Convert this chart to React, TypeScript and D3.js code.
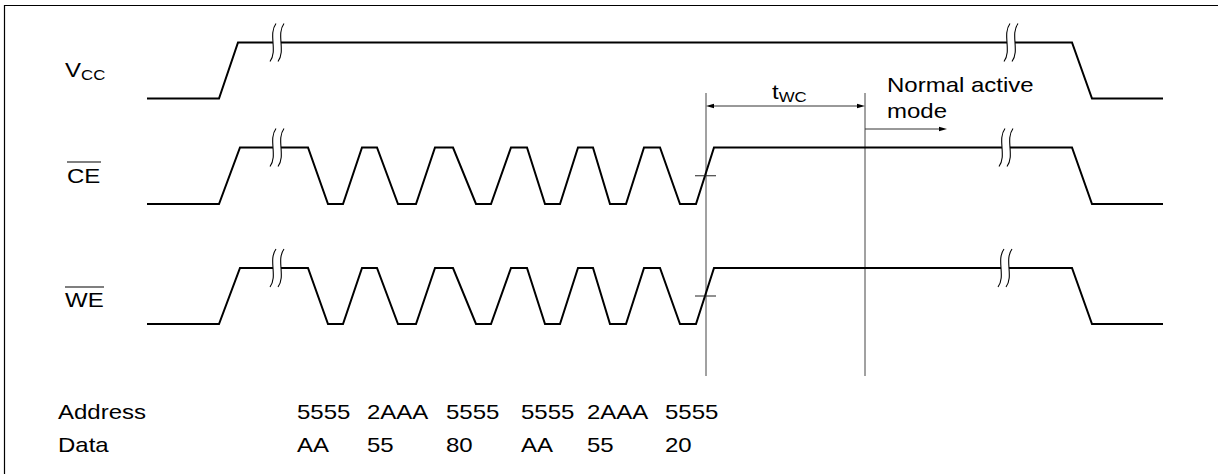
import React from "react";
import * as d3 from "d3";

// ---- Data (time positions of edges, levels 0 = low, 1 = high) ----
const vccTimes = [147, 219, 238, 1072, 1092, 1163];
const vccLevels = [0, 0, 1, 1, 0, 0];

const ceTimes = [147, 219, 240, 308, 328, 343, 362, 377, 398, 416, 435, 453, 476, 491, 511, 527, 545, 560, 578, 593, 610, 626, 644, 660, 680, 696, 714, 1072, 1092, 1163];
const ceLevels = [0, 0, 1, 1, 0, 0, 1, 1, 0, 0, 1, 1, 0, 0, 1, 1, 0, 0, 1, 1, 0, 0, 1, 1, 0, 0, 1, 1, 0, 0];

const weTimes = ceTimes;
const weLevels = ceLevels;

const signalNames = ["VCC", "CE", "WE"];
const breakTimesVcc = [277, 1011];
const breakTimesCe = [277, 1006];
const breakTimesWe = [277, 1005];

const markerTimes = [706, 865]; // tWC start / end
const addressLabels = ["5555", "2AAA", "5555", "5555", "2AAA", "5555"];
const dataLabels = ["AA", "55", "80", "AA", "55", "20"];
const columnTimes = [297, 367, 446, 521, 587, 665];

// ---- Layout ----
const W = 1218;
const H = 474;
const FONT = "'Liberation Sans', Arial, Helvetica, sans-serif";
const SX = 1.2;

const x = d3.scaleLinear().domain([0, W]).range([0, W]);
const yVcc = d3.scaleLinear().domain([0, 1]).range([98.5, 42.5]);
const yCe = d3.scaleLinear().domain([0, 1]).range([204, 147.5]);
const yWe = d3.scaleLinear().domain([0, 1]).range([324, 268]);

function signalPath(times: number[], levels: number[], y: d3.ScaleLinear<number, number>) {
  const pts: [number, number][] = times.map((t, i) => [x(t), y(levels[i])]);
  return d3.line()(pts) || "";
}

function BreakMark({ cx, cy }: { cx: number; cy: number }) {
  const curve = (dx: number) =>
    `M${cx + dx + 3},${cy - 19} C${cx + dx - 5},${cy - 8} ${cx + dx + 5},${cy + 8} ${cx + dx - 3},${cy + 19}`;
  const fill =
    `M${cx - 4 + 3},${cy - 19} C${cx - 4 - 5},${cy - 8} ${cx - 4 + 5},${cy + 8} ${cx - 4 - 3},${cy + 19}` +
    ` L${cx + 4 - 3},${cy + 19} C${cx + 4 + 5},${cy + 8} ${cx + 4 - 5},${cy - 8} ${cx + 4 + 3},${cy - 19} Z`;
  return (
    <g>
      <path d={fill} fill="#fff" stroke="none" />
      <path d={curve(-4)} fill="none" stroke="#000" strokeWidth={1.1} />
      <path d={curve(4)} fill="none" stroke="#000" strokeWidth={1.1} />
    </g>
  );
}

function Txt({ x0, y0, children, size = 20 }: { x0: number; y0: number; children: React.ReactNode; size?: number }) {
  return (
    <text transform={`translate(${x0},${y0}) scale(${SX},1)`} fontSize={size} fontFamily={FONT} fill="#000">
      {children}
    </text>
  );
}

export default function App() {
  const sigs = [
    { t: vccTimes, l: vccLevels, y: yVcc, b: breakTimesVcc },
    { t: ceTimes, l: ceLevels, y: yCe, b: breakTimesCe },
    { t: weTimes, l: weLevels, y: yWe, b: breakTimesWe },
  ];
  const vTop = 93;
  const vBot = 376;
  const aw = 8;
  const ah = 2.2;
  const yT = 106;
  const yN = 129;
  const ceCross = yCe(0.5);
  const weCross = yWe(0.5);

  return (
    <svg width={W} height={H} style={{ position: "absolute", left: 0, top: 0, background: "#fff" }}>
      <rect x={0} y={0} width={W} height={H} fill="#fff" />
      {/* frame */}
      <line x1={4.5} y1={5} x2={4.5} y2={H} stroke="#000" strokeWidth={1.2} />
      <line x1={4} y1={5.5} x2={W} y2={5.5} stroke="#000" strokeWidth={1.2} />

      {/* labels */}
      <Txt x0={65} y0={77}>
        V<tspan fontSize={14} dy={3}>CC</tspan>
      </Txt>
      <Txt x0={67} y0={183}>CE</Txt>
      <line x1={67} y1={162} x2={101} y2={162} stroke="#000" strokeWidth={1.2} />
      <Txt x0={65} y0={307}>WE</Txt>
      <line x1={65} y1={287} x2={104} y2={287} stroke="#000" strokeWidth={1.2} />

      {/* marker verticals */}
      {markerTimes.map((t, i) => (
        <line key={i} x1={x(t)} y1={vTop} x2={x(t)} y2={vBot} stroke="#444" strokeWidth={1} />
      ))}

      {/* signals */}
      {sigs.map((s, i) => (
        <g key={i}>
          <path d={signalPath(s.t, s.l, s.y)} fill="none" stroke="#000" strokeWidth={2} strokeLinejoin="miter" />
          {s.b.map((bt, j) => (
            <BreakMark key={j} cx={x(bt)} cy={s.y(1)} />
          ))}
        </g>
      ))}

      {/* cross ticks */}
      <line x1={695} y1={ceCross} x2={716} y2={ceCross} stroke="#222" strokeWidth={1} />
      <line x1={695} y1={weCross} x2={716} y2={weCross} stroke="#222" strokeWidth={1} />

      {/* tWC arrow */}
      <line x1={x(markerTimes[0]) + aw} y1={yT} x2={x(markerTimes[1]) - aw} y2={yT} stroke="#333" strokeWidth={1} />
      <path d={`M${x(markerTimes[0])},${yT} L${x(markerTimes[0]) + aw},${yT - ah} L${x(markerTimes[0]) + aw},${yT + ah} Z`} fill="#000" />
      <path d={`M${x(markerTimes[1])},${yT} L${x(markerTimes[1]) - aw},${yT - ah} L${x(markerTimes[1]) - aw},${yT + ah} Z`} fill="#000" />
      <Txt x0={772} y0={99}>
        t<tspan fontSize={14} dy={3}>WC</tspan>
      </Txt>

      {/* normal active mode */}
      <line x1={x(markerTimes[1])} y1={yN} x2={947 - aw} y2={yN} stroke="#333" strokeWidth={1} />
      <path d={`M947,${yN} L${947 - aw},${yN - ah} L${947 - aw},${yN + ah} Z`} fill="#000" />
      <Txt x0={887} y0={92}>Normal active</Txt>
      <Txt x0={887} y0={118}>mode</Txt>

      {/* address / data */}
      <Txt x0={58} y0={419}>Address</Txt>
      <Txt x0={58} y0={452}>Data</Txt>
      {addressLabels.map((a, i) => (
        <Txt key={"a" + i} x0={x(columnTimes[i])} y0={419}>{a}</Txt>
      ))}
      {dataLabels.map((d, i) => (
        <Txt key={"d" + i} x0={x(columnTimes[i])} y0={452}>{d}</Txt>
      ))}
      <title>{signalNames.join(",")}</title>
    </svg>
  );
}
